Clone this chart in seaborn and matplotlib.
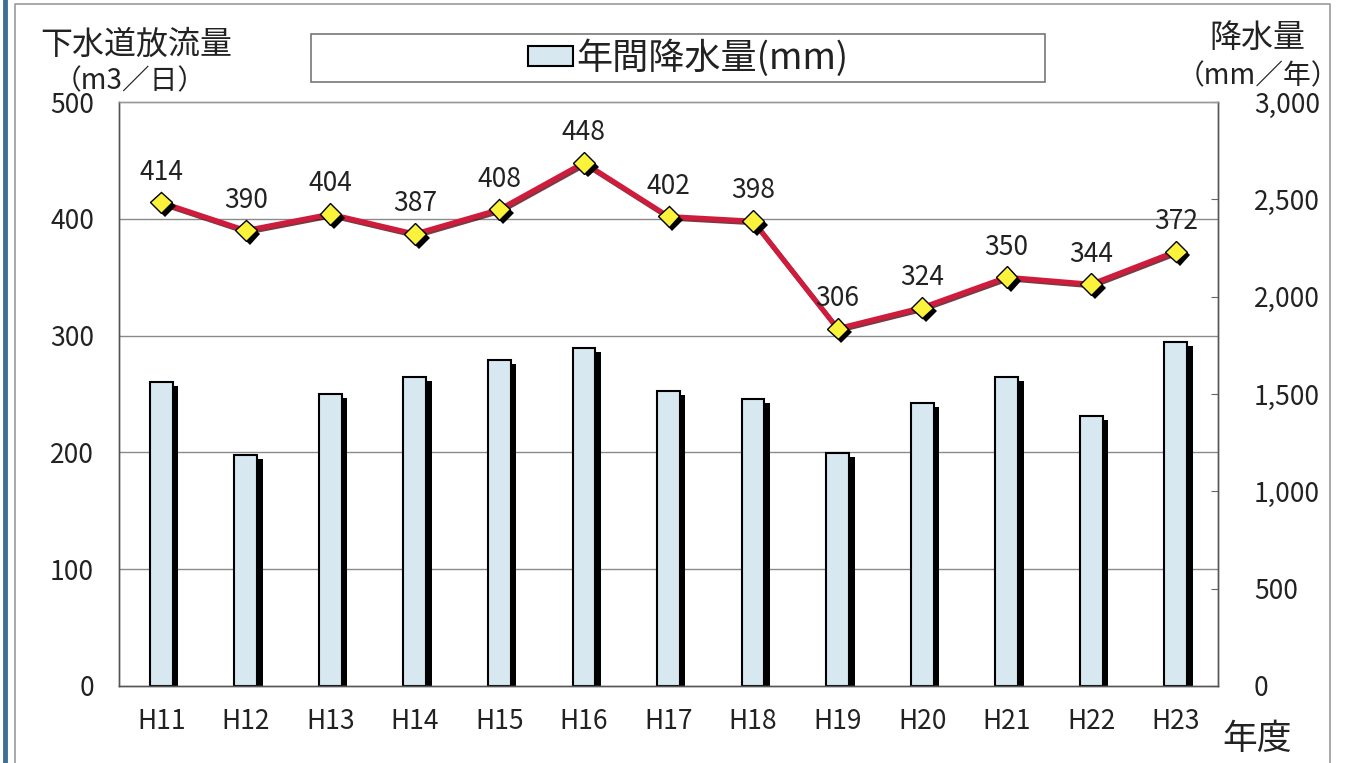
import numpy as np
import matplotlib
matplotlib.use("Agg")
import matplotlib.pyplot as plt
import matplotlib.patheffects as pe
from matplotlib.patches import Patch, Rectangle
from matplotlib.lines import Line2D
from matplotlib.ticker import FuncFormatter
import seaborn as sns

# data
years = ["H11", "H12", "H13", "H14", "H15", "H16", "H17",
         "H18", "H19", "H20", "H21", "H22", "H23"]
discharge = [414, 390, 404, 387, 408, 448, 402, 398, 306, 324, 350, 344, 372]   # m3/日
rainfall = [1563, 1187, 1500, 1587, 1675, 1736, 1515,
            1473, 1197, 1454, 1589, 1388, 1769]                                 # mm/年

BAR_COLOR = "#d7e8f0"
LINE_RED = "#d01c3c"
MARKER_YEL = "#fbf23c"

sns.set_style("white")
plt.rcParams["font.family"] = ["Noto Sans CJK JP", "DejaVu Sans"]

fig = plt.figure(figsize=(13.49, 7.63), dpi=100)
ax = fig.add_axes([119 / 1349, 1 - 686 / 763, 1099 / 1349, 584 / 763])
ax2 = ax.twinx()
ax.set_zorder(ax2.get_zorder() + 1)
ax.patch.set_visible(False)

# bars: annual rainfall (right axis)
sns.barplot(x=years, y=rainfall, order=years, ax=ax2, color=BAR_COLOR,
            saturation=1, width=0.27, edgecolor="black", linewidth=1.5)
for p in ax2.patches:
    p.set_path_effects([pe.SimplePatchShadow(offset=(4, -3), shadow_rgbFace="black", alpha=1),
                        pe.Normal()])

# line: discharge (left axis), line first then markers on top
sns.pointplot(x=years, y=discharge, order=years, ax=ax, color=LINE_RED,
              markers="", linewidth=3.6)
line_art = list(ax.lines)
for ln in line_art:
    ln.set_path_effects([pe.SimpleLineShadow(offset=(1, -1.2), shadow_color="#5a0814", alpha=0.8),
                         pe.Normal()])

sns.pointplot(x=years, y=discharge, order=years, ax=ax, color="black",
              markers="D", linestyles="none", markersize=11,
              markerfacecolor=MARKER_YEL, markeredgecolor="black", markeredgewidth=1)
for ln in ax.lines:
    if ln not in line_art:
        ln.set_path_effects([pe.SimplePatchShadow(offset=(2.8, -2.8), shadow_rgbFace="black", alpha=1),
                             pe.Normal()])

for i, v in enumerate(discharge):
    ax.annotate(str(v), xy=(i, v), xytext=(0, 12), textcoords="offset points",
                ha="center", va="bottom", fontsize=19, color="#222")

# axes scales
ax.set_ylim(0, 500)
ax.set_yticks(np.arange(0, 501, 100))
ax2.set_ylim(0, 3000)
ax2.set_yticks(np.arange(0, 3001, 500))
ax2.yaxis.set_major_formatter(FuncFormatter(lambda v, _: f"{int(v):,}"))
ax.set_xlim(-0.5, len(years) - 0.5)

# grid lines at every 100 on the left scale
ax2.set_yticks(np.arange(600, 3000, 600), minor=True)
ax2.yaxis.grid(True, which="minor", color="#8a8a8a", lw=1)
ax2.yaxis.grid(False, which="major")
ax2.set_axisbelow(True)
ax.grid(False)

ax.set_xlabel("")
ax.set_ylabel("")
ax2.set_xlabel("")
ax2.set_ylabel("")

ax.tick_params(axis="y", length=0, pad=18, labelsize=19, labelcolor="#222")
ax2.tick_params(axis="y", which="major", direction="in", length=5, color="#666",
                pad=26, labelsize=19, labelcolor="#222")
ax2.tick_params(axis="y", which="minor", length=0)
ax.tick_params(axis="x", which="major", length=0, pad=16, labelsize=19, labelcolor="#222")
ax.set_xticks(np.arange(len(years)) + 0.5, minor=True)
ax.tick_params(axis="x", which="minor", direction="in", length=6, color="#666")

for a in (ax, ax2):
    for side in ("left", "right", "bottom"):
        a.spines[side].set_color("#555")
        a.spines[side].set_linewidth(1)
    a.spines["top"].set_color("#999")
    a.spines["top"].set_linewidth(1)

# axis titles
fig.text(40 / 1349, 1 - 45 / 763, "下水道放流量", fontsize=23, ha="left", va="center", color="#222")
fig.text(130 / 1349, 1 - 81 / 763, "（m3／日）", fontsize=20, ha="center", va="center", color="#222")
fig.text(1257 / 1349, 1 - 38 / 763, "降水量", fontsize=23, ha="center", va="center", color="#222")
fig.text(1258 / 1349, 1 - 76 / 763, "（mm／年）", fontsize=20, ha="center", va="center", color="#222")
fig.text(1257 / 1349, 1 - 740 / 763, "年度", fontsize=25, ha="center", va="center", color="#222")

# legend box
fig.add_artist(Rectangle((311 / 1349, 1 - 82 / 763), 734 / 1349, 48 / 763,
                         transform=fig.transFigure, facecolor="white",
                         edgecolor="#777", lw=1.2))
fig.legend(handles=[Patch(facecolor=BAR_COLOR, edgecolor="black", lw=1.5)],
           labels=["年間降水量(mm)"], loc="center",
           bbox_to_anchor=(688 / 1349, 1 - 58 / 763), frameon=False,
           fontsize=26, handlelength=1.25, handleheight=0.5, handletextpad=0.1,
           borderpad=0, labelcolor="#222")

# outer page frame
fig.add_artist(Line2D([5 / 1349, 5 / 1349], [0, 1], transform=fig.transFigure,
                      color="#3f6f95", lw=3.5))
fig.add_artist(Line2D([15 / 1349, 15 / 1349, 1330 / 1349, 1330 / 1349],
                      [0, 1 - 4 / 763, 1 - 4 / 763, 0], transform=fig.transFigure,
                      color="#999", lw=1.2))

fig.savefig("out.png", dpi=100)
